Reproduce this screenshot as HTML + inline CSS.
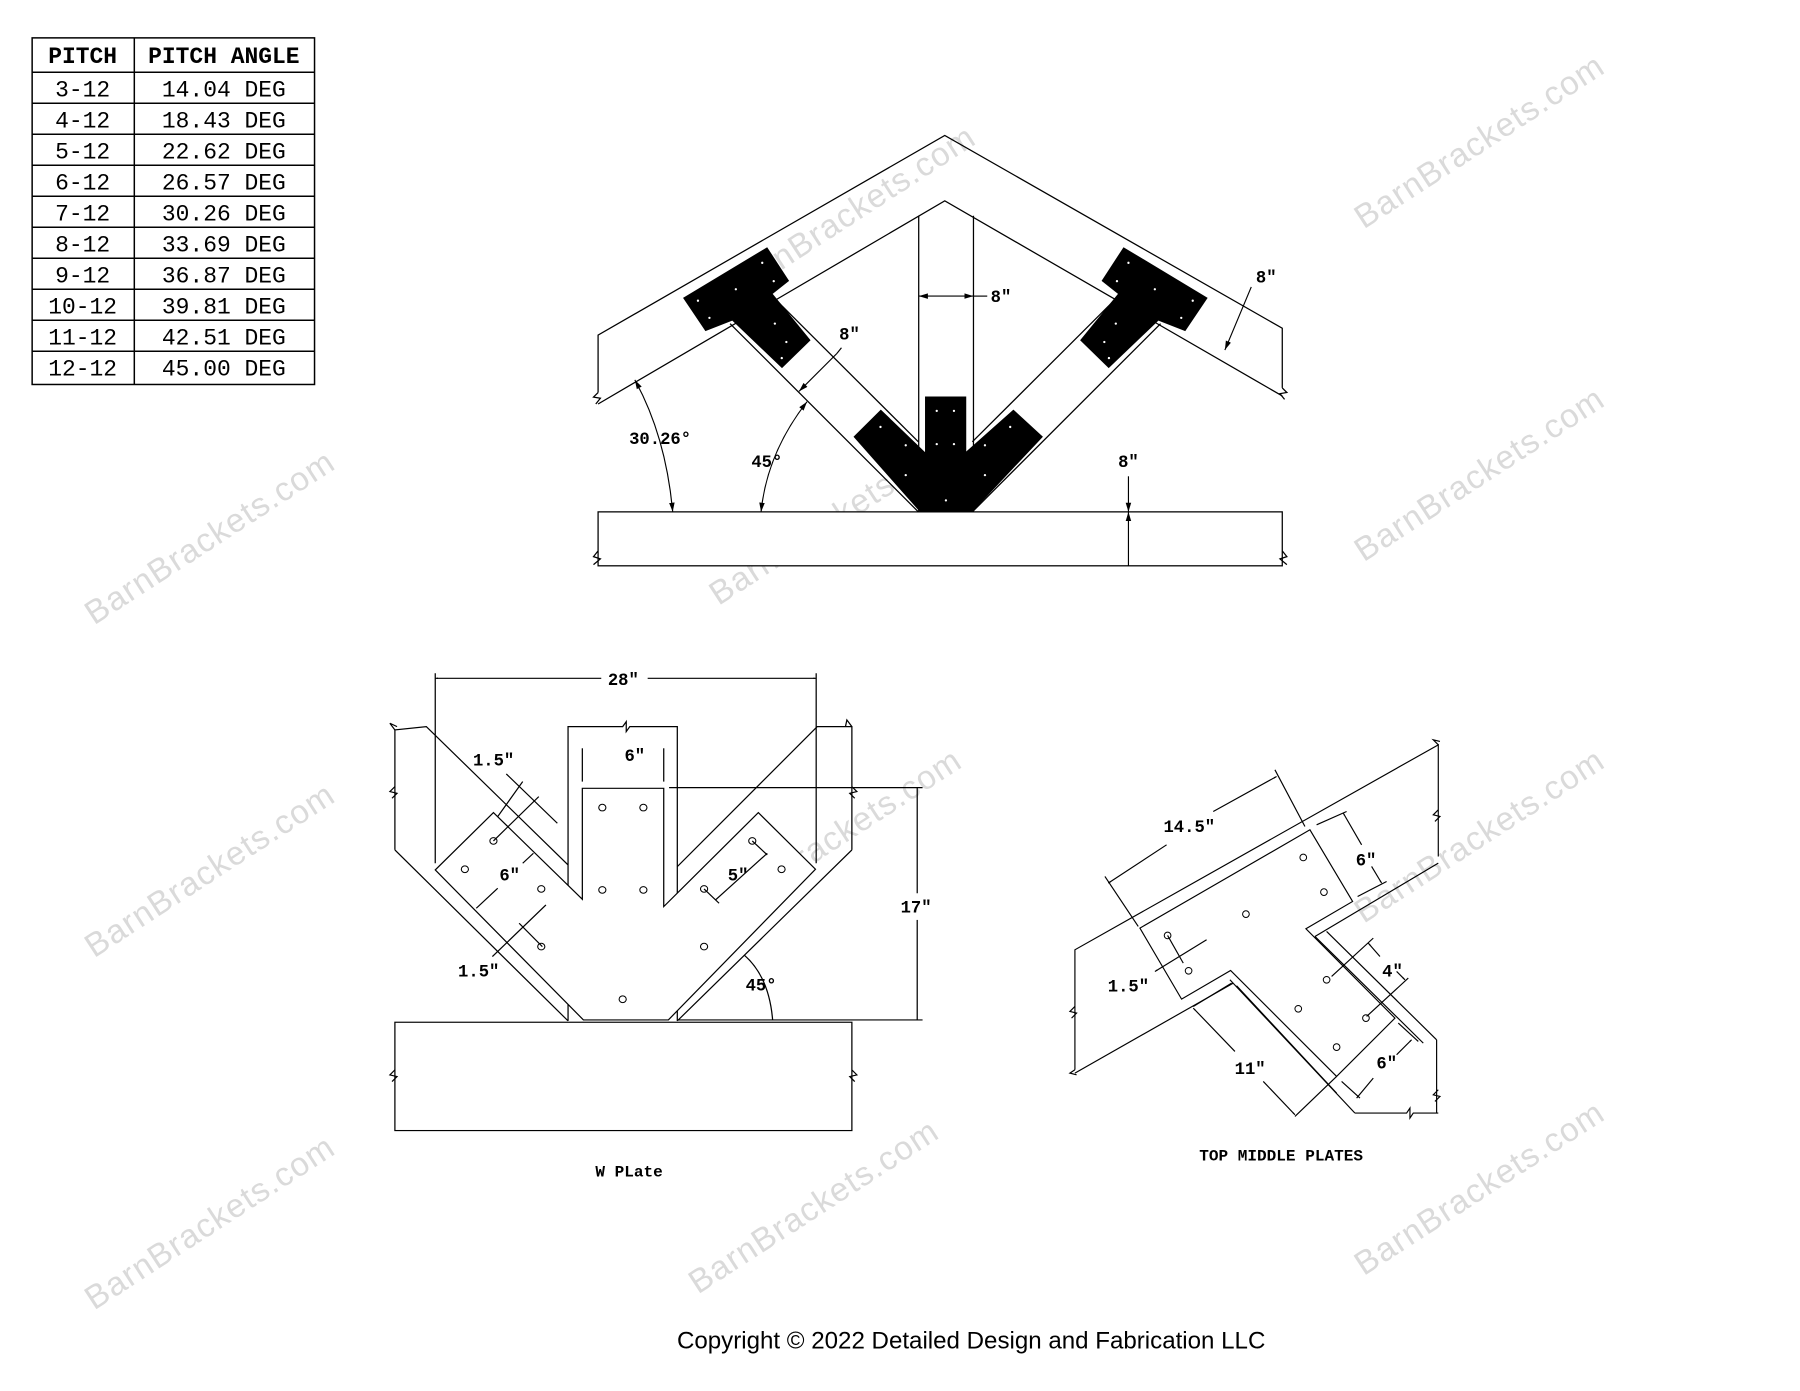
<!DOCTYPE html>
<html><head><meta charset="utf-8"><style>
html,body{margin:0;padding:0;background:#fff;}
svg{display:block;}
</style></head><body>
<svg width="1800" height="1391" viewBox="0 0 1568 1212" preserveAspectRatio="none" xmlns="http://www.w3.org/2000/svg">
<defs>
<marker id="a" viewBox="0 0 10 6" refX="10" refY="3" markerWidth="8" markerHeight="5" orient="auto-start-reverse" markerUnits="userSpaceOnUse"><path d="M0,0 L10,3 L0,6z" fill="#000"/></marker>
</defs>
<rect width="1568" height="1212" fill="#fff"/>
<g font-family="Liberation Sans, sans-serif" font-size="29" fill="#dadada" letter-spacing="1">
<text transform="translate(82,545) rotate(-33)">BarnBrackets.com</text>
<text transform="translate(626,528) rotate(-33)">BarnBrackets.com</text>
<text transform="translate(640,262) rotate(-33)">BarnBrackets.com</text>
<text transform="translate(1188,200) rotate(-33)">BarnBrackets.com</text>
<text transform="translate(1188,490) rotate(-33)">BarnBrackets.com</text>
<text transform="translate(82,835) rotate(-33)">BarnBrackets.com</text>
<text transform="translate(628,805) rotate(-33)">BarnBrackets.com</text>
<text transform="translate(1188,805) rotate(-33)">BarnBrackets.com</text>
<text transform="translate(82,1142) rotate(-33)">BarnBrackets.com</text>
<text transform="translate(608,1128) rotate(-33)">BarnBrackets.com</text>
<text transform="translate(1188,1112) rotate(-33)">BarnBrackets.com</text>
</g>
<g stroke="#000" stroke-width="1.3" fill="none">
<rect x="28" y="33" width="246" height="302"/>
<line x1="117" y1="33" x2="117" y2="335"/>
<line x1="28" y1="63" x2="274" y2="63"/>
<line x1="28" y1="90" x2="274" y2="90"/><line x1="28" y1="117" x2="274" y2="117"/>
<line x1="28" y1="144" x2="274" y2="144"/><line x1="28" y1="171" x2="274" y2="171"/>
<line x1="28" y1="198" x2="274" y2="198"/><line x1="28" y1="225" x2="274" y2="225"/>
<line x1="28" y1="252" x2="274" y2="252"/><line x1="28" y1="279" x2="274" y2="279"/>
<line x1="28" y1="306" x2="274" y2="306"/>
</g>
<g font-family="Liberation Mono, monospace" font-size="20" fill="#000" text-anchor="middle">
<text x="72" y="55" font-weight="bold">PITCH</text><text x="195" y="55" font-weight="bold">PITCH ANGLE</text>
<text x="72" y="84">3-12</text><text x="195" y="84">14.04 DEG</text>
<text x="72" y="111">4-12</text><text x="195" y="111">18.43 DEG</text>
<text x="72" y="138">5-12</text><text x="195" y="138">22.62 DEG</text>
<text x="72" y="165">6-12</text><text x="195" y="165">26.57 DEG</text>
<text x="72" y="192">7-12</text><text x="195" y="192">30.26 DEG</text>
<text x="72" y="219">8-12</text><text x="195" y="219">33.69 DEG</text>
<text x="72" y="246">9-12</text><text x="195" y="246">36.87 DEG</text>
<text x="72" y="273">10-12</text><text x="195" y="273">39.81 DEG</text>
<text x="72" y="300">11-12</text><text x="195" y="300">42.51 DEG</text>
<text x="72" y="327">12-12</text><text x="195" y="327">45.00 DEG</text>
</g>

<g stroke="#000" stroke-width="1.1" fill="none">
<rect x="521" y="446" width="596" height="47" fill="#fff"/>
<path d="M521,480 l-4,5 l6,2 l-6,5"/><path d="M1117,480 l4,5 l-6,2 l6,5"/>
<path d="M521,342 L521,292 L823,118 L1117,286 L1117,338"/>
<path d="M521,352 L823,175 L1117,345"/>
<path d="M521,342 l-4,4 l6,1 l-4,5"/><path d="M1117,338 l4,4 l-6,1 l4,5"/>
<line x1="800.3" y1="188" x2="800.3" y2="446"/><line x1="848" y1="188" x2="848" y2="446"/>
<line x1="636" y1="282" x2="800" y2="446"/><line x1="675.7" y1="261" x2="800" y2="385"/>
<line x1="1011" y1="282" x2="847" y2="446"/><line x1="971.3" y1="261" x2="847" y2="385"/>
</g>
<g fill="#000">
<polygon points="595,259.5 668.3,215.4 687.4,244.7 673.1,256.1 706.1,296.5 681.2,320.7 637.9,279.4 614.5,288.5"/>
<polygon points="1052,259.5 978.7,215.4 959.6,244.7 973.9,256.1 940.9,296.5 965.8,320.7 1009.1,279.4 1032.5,288.5"/>
<polygon points="743.5,380.5 767.3,356.9 805.8,393.9 805.8,345.5 841.7,345.5 841.7,393.4 882.8,356.9 908.5,380.5 847,446 801.4,446"/>
</g>
<g fill="#fff">
<circle cx="664" cy="229" r="1"/><circle cx="674" cy="245" r="1"/><circle cx="641" cy="252" r="1"/><circle cx="608" cy="262" r="1"/><circle cx="618" cy="277" r="1"/><circle cx="675" cy="282" r="1"/><circle cx="685" cy="298" r="1"/><circle cx="681" cy="312" r="1"/>
<circle cx="983" cy="229" r="1"/><circle cx="973" cy="245" r="1"/><circle cx="1006" cy="252" r="1"/><circle cx="1039" cy="262" r="1"/><circle cx="1029" cy="277" r="1"/><circle cx="972" cy="282" r="1"/><circle cx="962" cy="298" r="1"/><circle cx="966" cy="312" r="1"/>
<circle cx="816" cy="358" r="1"/><circle cx="831" cy="358" r="1"/><circle cx="816" cy="387" r="1"/><circle cx="831" cy="387" r="1"/><circle cx="767" cy="372" r="1"/><circle cx="789" cy="388" r="1"/><circle cx="858" cy="388" r="1"/><circle cx="880" cy="372" r="1"/><circle cx="789" cy="414" r="1"/><circle cx="858" cy="414" r="1"/><circle cx="824" cy="436" r="1"/>
</g>
<g stroke="#000" stroke-width="1" fill="none">
<line x1="800.3" y1="258" x2="848" y2="258" marker-start="url(#a)" marker-end="url(#a)"/><line x1="848" y1="258" x2="860" y2="258"/>
<line x1="696" y1="341" x2="729" y2="308" marker-start="url(#a)"/><line x1="729" y1="308" x2="733" y2="303"/>
<line x1="1090" y1="250" x2="1067" y2="305" marker-end="url(#a)"/>
<path d="M553,331 Q580,380 586,446" marker-start="url(#a)" marker-end="url(#a)"/>
<path d="M703,350 Q668,395 663,446" marker-start="url(#a)" marker-end="url(#a)"/>
<line x1="983" y1="415" x2="983" y2="446" marker-end="url(#a)"/><line x1="983" y1="446" x2="983" y2="493" marker-start="url(#a)"/>
</g>
<g font-family="Liberation Mono, monospace" font-weight="bold" font-size="15" fill="#000" text-anchor="middle">
<text x="872" y="263">8″</text><text x="740" y="296">8″</text><text x="1103" y="246">8″</text>
<text x="575" y="387">30.26°</text><text x="668" y="407">45°</text><text x="983" y="407">8″</text>
</g>

<g transform="translate(330.94,575.03) scale(0.311,0.2904)" stroke="#000" stroke-width="3.5" fill="none">
<rect x="42" y="1087" width="1280" height="325" fill="#fff"/>
<path d="M42,1230 l-14,15 l20,5 l-14,15"/><path d="M1322,1230 l14,15 l-20,5 l14,15"/>
<path d="M42,570 L42,210 L130,200 L527,615"/>
<path d="M42,380 l-14,15 l20,5 l-14,15"/><path d="M42,210 l-14,-20 l20,10"/>
<path d="M42,570 L527,1083"/><line x1="527" y1="1025" x2="527" y2="1083"/>
<path d="M527,680 L527,200 L680,200 l10,-15 l0,30 l10,-15 L833,200 L833,740"/>
<path d="M1322,570 L1322,200 L1225,200 L833,620"/>
<path d="M1322,380 l14,15 l-20,5 l14,15"/><path d="M1322,200 l-14,-20 l-4,20"/>
<path d="M1322,570 L833,1083"/><line x1="833" y1="1025" x2="833" y2="1083"/>
<polygon points="155,630 318,458 567,718 567,385 795,385 795,740 1060,458 1220,628 808,1080 570,1080" fill="#fff"/>
<line x1="155" y1="40" x2="155" y2="610"/><line x1="1222" y1="40" x2="1222" y2="610"/>
<line x1="155" y1="55" x2="620" y2="55" marker-start="url(#a)"/><line x1="750" y1="55" x2="1222" y2="55" marker-end="url(#a)"/>
<line x1="567" y1="265" x2="567" y2="365"/><line x1="795" y1="265" x2="795" y2="365"/>
<line x1="810" y1="383" x2="1520" y2="383"/><line x1="835" y1="1080" x2="1520" y2="1080"/>
<line x1="1505" y1="383" x2="1505" y2="700"/><line x1="1505" y1="780" x2="1505" y2="1080"/>
<g fill="none" stroke-width="3">
<circle cx="623" cy="443" r="10"/><circle cx="738" cy="443" r="10"/><circle cx="623" cy="690" r="10"/><circle cx="738" cy="690" r="10"/>
<circle cx="318" cy="543" r="10"/><circle cx="238" cy="628" r="10"/><circle cx="452" cy="687" r="10"/><circle cx="452" cy="860" r="10"/>
<circle cx="680" cy="1018" r="10"/><circle cx="908" cy="860" r="10"/><circle cx="908" cy="687" r="10"/><circle cx="1043" cy="543" r="10"/><circle cx="1125" cy="628" r="10"/>
</g>
<line x1="354" y1="342" x2="497" y2="490"/><line x1="330" y1="470" x2="400" y2="365"/><line x1="318" y1="543" x2="445" y2="410"/>
<line x1="270" y1="745" x2="330" y2="685"/><line x1="400" y1="610" x2="430" y2="580"/>
<line x1="315" y1="890" x2="465" y2="735"/><line x1="390" y1="790" x2="455" y2="860"/>
<line x1="940" y1="720" x2="1085" y2="580"/><line x1="908" y1="687" x2="950" y2="730"/><line x1="1043" y1="543" x2="1085" y2="585"/>
<path d="M1020,885 Q1090,950 1100,1080"/>
</g>
<g font-family="Liberation Mono, monospace" font-weight="bold" font-size="15" fill="#000" text-anchor="middle">
<text x="543" y="597">28″</text><text x="553" y="663">6″</text><text x="430" y="667">1.5″</text>
<text x="444" y="767">6″</text><text x="643" y="767">5″</text><text x="417" y="851">1.5″</text>
<text x="798" y="795">17″</text><text x="663" y="863">45°</text>
<text x="548" y="1025" font-size="14">W PLate</text>
</g>

<g transform="translate(923.3,635.9) scale(0.2904)" stroke="#000" stroke-width="3.5" fill="none">
<path d="M45,1020 L45,660 L1135,45 L1135,380"/>
<path d="M45,830 l-15,15 l20,5 l-15,15"/><path d="M1135,240 l-15,15 l20,5 l-15,15"/><path d="M1135,45 l-15,-15 l20,5"/>
<path d="M45,1020 l-15,10 l20,5"/>
<line x1="45" y1="1030" x2="520" y2="760"/><line x1="765" y1="620" x2="1135" y2="400"/>
<line x1="510" y1="750" x2="885" y2="1150"/>
<line x1="800" y1="605" x2="1130" y2="930"/><line x1="1130" y1="930" x2="1130" y2="1150"/>
<path d="M885,1150 L1040,1150 l10,-15 l0,30 l10,-15 L1135,1150"/><path d="M1135,1080 l-15,15 l20,5 l-15,15"/>
<polygon points="240,595 750,300 878,515 738,597 1005,865 830,1040 512,722 365,808" fill="#fff"/>
<line x1="400" y1="830" x2="515" y2="760"/><line x1="530" y1="768" x2="830" y2="1090"/>
<line x1="765" y1="620" x2="1090" y2="940"/>
<g stroke-width="3">
<circle cx="730" cy="383" r="10"/><circle cx="792" cy="487" r="10"/><circle cx="558" cy="553" r="10"/><circle cx="323" cy="617" r="10"/><circle cx="386" cy="723" r="10"/>
<circle cx="800" cy="750" r="10"/><circle cx="715" cy="837" r="10"/><circle cx="918" cy="865" r="10"/><circle cx="830" cy="952" r="10"/>
</g>
<line x1="135" y1="440" x2="235" y2="590"/><line x1="645" y1="120" x2="735" y2="290"/>
<line x1="145" y1="460" x2="320" y2="345" marker-start="url(#a)"/><line x1="460" y1="245" x2="650" y2="140" marker-end="url(#a)"/>
<line x1="770" y1="285" x2="860" y2="245"/><line x1="893" y1="500" x2="980" y2="455"/>
<line x1="850" y1="250" x2="905" y2="345" marker-start="url(#a)"/><line x1="935" y1="410" x2="965" y2="460" marker-end="url(#a)"/>
<line x1="323" y1="617" x2="370" y2="700"/><line x1="285" y1="725" x2="440" y2="630" marker-start="url(#a)"/>
<line x1="815" y1="740" x2="940" y2="625"/><line x1="920" y1="860" x2="1045" y2="745"/>
<line x1="925" y1="640" x2="960" y2="680" marker-start="url(#a)"/><line x1="1010" y1="725" x2="1035" y2="750" marker-end="url(#a)"/>
<line x1="705" y1="1160" x2="830" y2="1040"/>
<line x1="400" y1="835" x2="525" y2="965" marker-start="url(#a)"/><line x1="610" y1="1055" x2="705" y2="1155" marker-end="url(#a)"/>
<line x1="1015" y1="880" x2="1075" y2="935"/><line x1="845" y1="1055" x2="900" y2="1105"/>
<line x1="1055" y1="930" x2="1010" y2="975" marker-start="url(#a)"/><line x1="940" y1="1045" x2="890" y2="1105" marker-end="url(#a)"/>
</g>
<g font-family="Liberation Mono, monospace" font-weight="bold" font-size="15" fill="#000" text-anchor="middle">
<text x="1036" y="725">14.5″</text><text x="1190" y="754">6″</text><text x="983" y="864">1.5″</text>
<text x="1213" y="851">4″</text><text x="1089" y="936">11″</text><text x="1208" y="931">6″</text>
<text x="1116" y="1011" font-size="14">TOP MIDDLE PLATES</text>
</g>

<text x="846" y="1175" font-family="Liberation Sans, sans-serif" font-size="21" fill="#000" text-anchor="middle">Copyright © 2022 Detailed Design and Fabrication LLC</text>
</svg>
</body></html>
